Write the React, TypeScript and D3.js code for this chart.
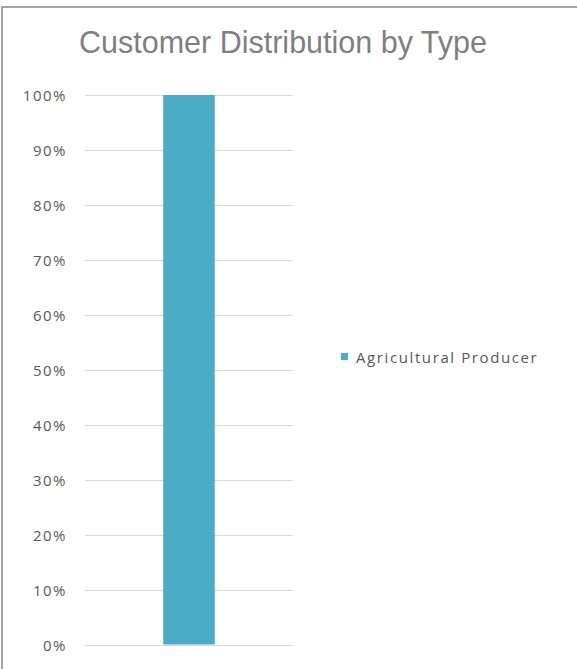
import React from "react";
import * as d3 from "d3";

const title = "Customer Distribution by Type";
const categories = ["Agricultural Producer"];
const seriesNames = ["Agricultural Producer"];
const values = [1.0];
const tickValues = [0, 0.1, 0.2, 0.3, 0.4, 0.5, 0.6, 0.7, 0.8, 0.9, 1.0];

const W = 577;
const H = 669;
const plot = { left: 85, right: 293, top: 95, bottom: 644.5 };
const barColor = "#4bacc6";

export default function App() {
  const x = d3
    .scaleBand<string>()
    .domain(categories)
    .range([plot.left, plot.right])
    .padding(0.603);
  const y = d3.scaleLinear().domain([0, 1]).range([plot.bottom, plot.top]);
  const fmt = d3.format(".0%");

  return (
    <svg
      width={W}
      height={H}
      style={{ position: "absolute", left: 0, top: 0, background: "#fff" }}
    >
      <rect x={0} y={0} width={W} height={H} fill="#ffffff" />
      <rect
        x={2}
        y={7}
        width={W + 10}
        height={H + 10}
        fill="none"
        stroke="#a6a6a6"
        strokeWidth={2}
      />
      <text
        x={283}
        y={53}
        textAnchor="middle"
        fontFamily="'Liberation Sans', Arial, sans-serif"
        fontSize={30.5}
        fill="#7f7f7f"
      >
        {title}
      </text>
      <g>
        {tickValues.map((t) => (
          <g key={t}>
            <line
              x1={plot.left}
              x2={plot.right}
              y1={Math.round(y(t)) + 0.5}
              y2={Math.round(y(t)) + 0.5}
              stroke="#d9d9d9"
              strokeWidth={1}
            />
            <text
              x={67}
              y={y(t)}
              textAnchor="end"
              dominantBaseline="central"
              fontFamily="'Open Sans', sans-serif"
              fontSize={15}
              letterSpacing={1.5}
              fill="#595959"
            >
              {fmt(t)}
            </text>
          </g>
        ))}
      </g>
      {categories.map((c, i) => (
        <rect
          key={c}
          x={x(c)}
          y={y(values[i])}
          width={x.bandwidth()}
          height={y(0) - y(values[i])}
          fill={barColor}
        />
      ))}
      <g transform="translate(341,357)">
        {seriesNames.map((s, i) => (
          <g key={s} transform={`translate(0,${i * 20})`}>
            <rect x={0} y={-4} width={7} height={7} fill={barColor} />
            <text
              x={15}
              y={0}
              dominantBaseline="central"
              fontFamily="'Open Sans', sans-serif"
              fontSize={15}
              letterSpacing={1.6}
              fill="#595959"
            >
              {s}
            </text>
          </g>
        ))}
      </g>
    </svg>
  );
}
